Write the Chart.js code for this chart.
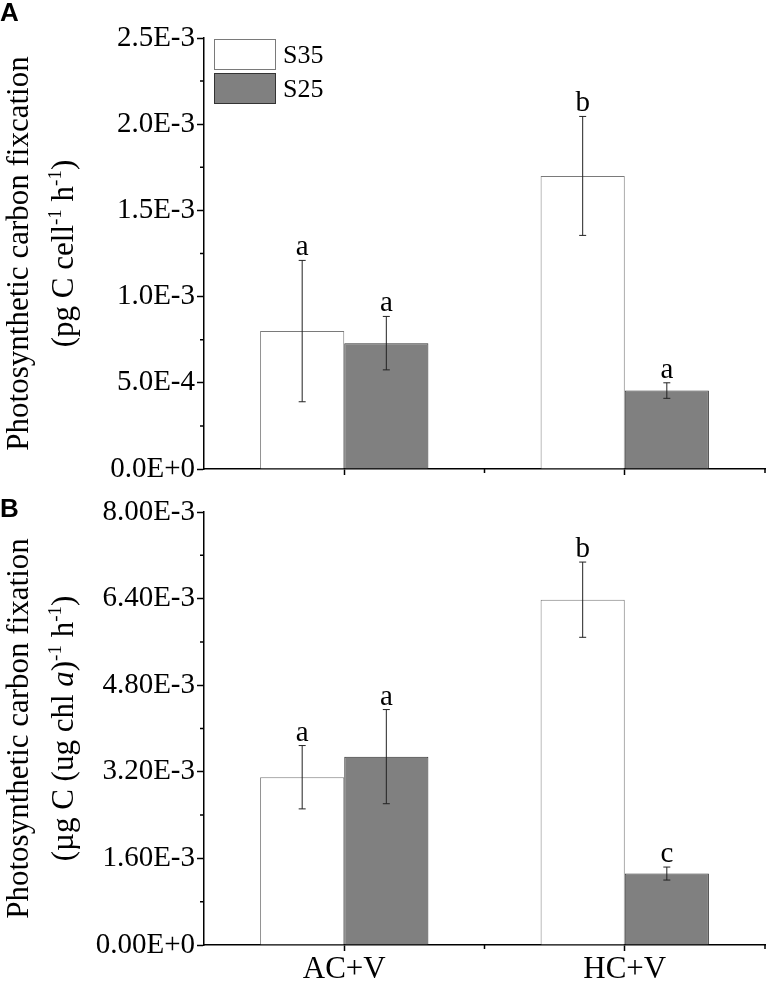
<!DOCTYPE html>
<html>
<head>
<meta charset="utf-8">
<script src="https://cdn.jsdelivr.net/npm/chart.js@4"></script>
<style>
  body { margin: 0; background: #fff; }
  .panel { position: absolute; left: 0; }
</style>
</head>
<body>
<div class="panel" style="top:0"><canvas id="chartA" width="769" height="490" style="width:769px;height:490px"></canvas></div>
<div class="panel" style="top:490px"><canvas id="chartB" width="769" height="493" style="width:769px;height:493px"></canvas></div>
<script>
// Treatments on the x axis
const categories = ['AC+V', 'HC+V'];

// Panel A: per-cell carbon fixation (pg C cell-1 h-1)
const cellS35 = [0.80e-3, 1.70e-3];
const cellS35Err = [0.41e-3, 0.345e-3];
const cellS25 = [0.73e-3, 0.455e-3];
const cellS25Err = [0.155e-3, 0.045e-3];
const cellS35Sig = ['a', 'b'];
const cellS25Sig = ['a', 'a'];
const cellTicks = ['0.0E+0', '5.0E-4', '1.0E-3', '1.5E-3', '2.0E-3', '2.5E-3'];

// Panel B: per-chlorophyll carbon fixation (ug C (ug chl a)-1 h-1)
const chlS35 = [3.10e-3, 6.38e-3];
const chlS35Err = [0.585e-3, 0.695e-3];
const chlS25 = [3.48e-3, 1.32e-3];
const chlS25Err = [0.87e-3, 0.12e-3];
const chlS35Sig = ['a', 'b'];
const chlS25Sig = ['a', 'c'];
const chlTicks = ['0.00E+0', '1.60E-3', '3.20E-3', '4.80E-3', '6.40E-3', '8.00E-3'];

const SERIF = '"Liberation Serif", "Times New Roman", serif';
const S35_BORDER = '#7a7a7a';
const S25_FILL = '#808080';
const S25_BORDER = '#333333';

// draws a line of text made of runs (superscripts, italics), centred on 0,0
function drawRuns(ctx, runs, size) {
    const fontFor = r => (r.italic ? 'italic ' : '') + (r.sup ? Math.round(size * 0.62) : size) + 'px ' + SERIF;
    let total = 0;
    runs.forEach(r => { ctx.font = fontFor(r); total += ctx.measureText(r.t).width; });
    let x = -total / 2;
    ctx.textAlign = 'left';
    ctx.textBaseline = 'alphabetic';
    runs.forEach(r => {
        ctx.font = fontFor(r);
        ctx.fillText(r.t, x, r.sup ? -size * 0.05 : size * 0.33);
        x += ctx.measureText(r.t).width;
    });
}

const extrasPlugin = {
    id: 'extras',
    afterDraw(chart, args, opts) {
        const ctx = chart.ctx;
        const area = chart.chartArea;
        const yScale = chart.scales.y;
        const xScale = chart.scales.x;
        ctx.save();
        ctx.fillStyle = '#000';

        // error bars and significance letters
        chart.data.datasets.forEach((ds, di) => {
            const meta = chart.getDatasetMeta(di);
            meta.data.forEach((bar, i) => {
                const v = ds.data[i], e = ds.err[i];
                const yt = yScale.getPixelForValue(v + e);
                const yb = yScale.getPixelForValue(v - e);
                ctx.strokeStyle = '#222';
                ctx.lineWidth = 1;
                ctx.beginPath();
                ctx.moveTo(bar.x, yt); ctx.lineTo(bar.x, yb);
                ctx.moveTo(bar.x - 3.5, yt); ctx.lineTo(bar.x + 3.5, yt);
                ctx.moveTo(bar.x - 3.5, yb); ctx.lineTo(bar.x + 3.5, yb);
                ctx.stroke();
                ctx.font = '29px ' + SERIF;
                ctx.textAlign = 'center';
                ctx.textBaseline = 'alphabetic';
                ctx.fillText(ds.sig[i], bar.x, yt - 5);
            });
        });

        // minor ticks
        ctx.strokeStyle = '#000';
        ctx.lineWidth = 1.5;
        ctx.beginPath();
        yScale.ticks.forEach((t, i) => {
            if (i % 2 === 1) {
                const y = yScale.getPixelForValue(t.value);
                ctx.moveTo(area.left - 4, y); ctx.lineTo(area.left, y);
            }
        });
        const mid = (xScale.getPixelForValue(0) + xScale.getPixelForValue(1)) / 2;
        [mid, area.right].forEach(x => {
            ctx.moveTo(x, area.bottom); ctx.lineTo(x, area.bottom + 4);
        });
        ctx.stroke();

        // panel letter
        ctx.font = 'bold 26px "Liberation Sans", Arial, sans-serif';
        ctx.textAlign = 'left';
        ctx.textBaseline = 'top';
        ctx.fillText(opts.letter, 0, opts.letterY);

        // y axis title, two lines, rotated
        const cy = (area.top + area.bottom) / 2;
        ctx.save();
        ctx.translate(opts.line1X, cy);
        ctx.rotate(-Math.PI / 2);
        drawRuns(ctx, [{ t: opts.line1 }], 31);
        ctx.restore();
        ctx.save();
        ctx.translate(opts.line2X, cy);
        ctx.rotate(-Math.PI / 2);
        drawRuns(ctx, opts.line2, 31);
        ctx.restore();

        // legend
        if (opts.legend) {
            const lx = area.left + 10, ly = area.top + 1;
            ctx.lineWidth = 1;
            ctx.fillStyle = '#fff';
            ctx.strokeStyle = S35_BORDER;
            ctx.fillRect(lx, ly, 61, 30);
            ctx.strokeRect(lx + 0.5, ly + 0.5, 61, 30);
            ctx.fillStyle = S25_FILL;
            ctx.strokeStyle = S25_BORDER;
            ctx.fillRect(lx, ly + 34, 61, 30);
            ctx.strokeRect(lx + 0.5, ly + 34.5, 61, 30);
            ctx.fillStyle = '#000';
            ctx.font = '26px ' + SERIF;
            ctx.textBaseline = 'middle';
            ctx.fillText('S35', lx + 69, ly + 17);
            ctx.fillText('S25', lx + 69, ly + 51);
        }
        ctx.restore();
    }
};

function makePanel(id, s35, s35Err, s35Sig, s25, s25Err, s25Sig, max, step, tickLabels, showX, xHeight, topPad, extras) {
    return new Chart(document.getElementById(id), {
        type: 'bar',
        data: {
            labels: categories,
            datasets: [{
                label: 'S35',
                data: s35, err: s35Err, sig: s35Sig,
                backgroundColor: '#ffffff',
                borderColor: S35_BORDER,
                borderWidth: 1
            }, {
                label: 'S25',
                data: s25, err: s25Err, sig: s25Sig,
                backgroundColor: S25_FILL,
                borderColor: S25_BORDER,
                borderWidth: 1
            }]
        },
        options: {
            responsive: false,
            animation: false,
            layout: { padding: { left: 0, right: 4, top: topPad, bottom: 0 } },
            datasets: { bar: { barPercentage: 1.0, categoryPercentage: 0.6 } },
            plugins: {
                legend: { display: false },
                tooltip: { enabled: false },
                extras: extras
            },
            scales: {
                x: {
                    grid: { display: true, drawOnChartArea: false, offset: false, tickLength: 6, tickColor: '#000', tickWidth: 1.5 },
                    border: { color: '#000', width: 1.5 },
                    ticks: { display: showX, color: '#000', font: { family: SERIF, size: 31 }, padding: 0 },
                    afterFit: s => { s.height = xHeight; }
                },
                y: {
                    min: 0,
                    max: max,
                    grid: {
                        drawOnChartArea: false,
                        tickLength: 7,
                        tickWidth: 1.5,
                        tickColor: c => (c.index % 2 === 0 ? '#000' : 'rgba(0,0,0,0)')
                    },
                    border: { color: '#000', width: 1.5 },
                    ticks: {
                        stepSize: step,
                        autoSkip: false,
                        color: '#000',
                        padding: 2,
                        font: { family: SERIF, size: 29 },
                        callback: (v, i) => (i % 2 === 0 ? tickLabels[i / 2] : '')
                    },
                    afterFit: s => { s.width = 204; }
                }
            }
        },
        plugins: [extrasPlugin]
    });
}

makePanel('chartA', cellS35, cellS35Err, cellS35Sig, cellS25, cellS25Err, cellS25Sig,
    2.5e-3, 0.25e-3, cellTicks, false, 21, 38, {
        letter: 'A', letterY: 1, legend: true,
        line1: 'Photosynthetic carbon fixcation', line1X: 18,
        line2: [{ t: '(pg C cell' }, { t: '-1', sup: true }, { t: ' h' }, { t: '-1', sup: true }, { t: ')' }], line2X: 63
    });

makePanel('chartB', chlS35, chlS35Err, chlS35Sig, chlS25, chlS25Err, chlS25Sig,
    8e-3, 0.8e-3, chlTicks, true, 38, 22, {
        letter: 'B', letterY: 7, legend: false,
        line1: 'Photosynthetic carbon fixation', line1X: 18,
        line2: [{ t: '(\u00b5g C (ug chl ' }, { t: 'a', italic: true }, { t: ')' }, { t: '-1', sup: true }, { t: ' h' }, { t: '-1', sup: true }, { t: ')' }], line2X: 63
    });
</script>
</body>
</html>
